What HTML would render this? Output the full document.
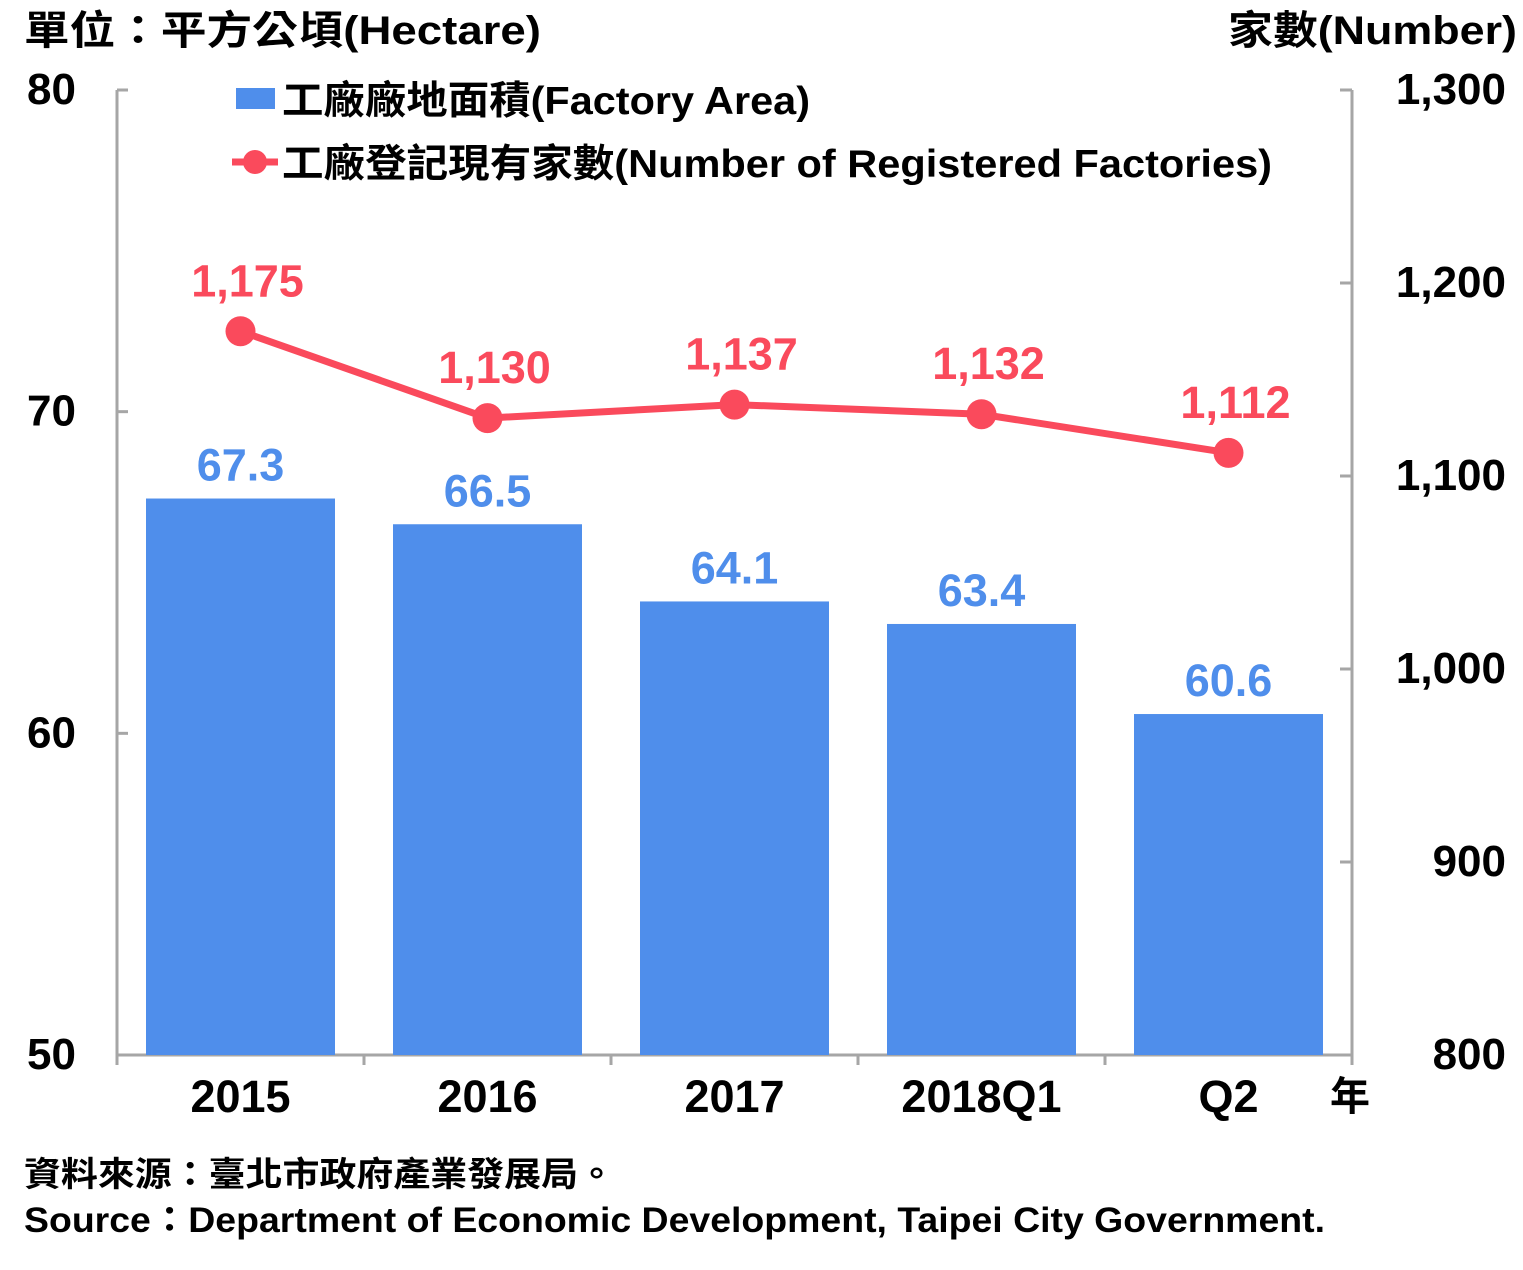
<!DOCTYPE html>
<html><head><meta charset="utf-8"><style>
html,body{margin:0;padding:0;background:#fff;}
svg text{font-family:"Liberation Sans","Noto Sans CJK TC",sans-serif;font-weight:bold;}
</style></head><body>
<svg id="chart" width="1523" height="1265" viewBox="0 0 1523 1265" xmlns="http://www.w3.org/2000/svg">
<text x="24" y="44" font-size="40" fill="#000" textLength="517" lengthAdjust="spacingAndGlyphs">單位：平方公頃(Hectare)</text>
<text x="1228" y="44" font-size="40" fill="#000" textLength="289" lengthAdjust="spacingAndGlyphs">家數(Number)</text>
<g id="axes"></g>
<g id="bars"></g>
<g id="line"></g>
<g>
<rect x="236" y="88" width="39" height="21" fill="#4f8eeb"/>
<text x="282" y="114" font-size="39" fill="#000" textLength="528" lengthAdjust="spacingAndGlyphs">工廠廠地面積(Factory Area)</text>
<line x1="232" y1="162" x2="278" y2="162" stroke="#fa4a5c" stroke-width="7"/>
<circle cx="255" cy="162" r="12" fill="#fa4a5c"/>
<text x="282" y="177" font-size="39" fill="#000" textLength="990" lengthAdjust="spacingAndGlyphs">工廠登記現有家數(Number of Registered Factories)</text>
</g>
<text x="1330" y="1110" font-size="40" fill="#000">年</text>
<text x="24" y="1186" font-size="34" fill="#000" font-weight="normal" textLength="591" lengthAdjust="spacingAndGlyphs">資料來源：臺北市政府產業發展局。</text>
<text x="24" y="1232" font-size="35" fill="#000" textLength="1301" lengthAdjust="spacingAndGlyphs">Source：Department of Economic Development, Taipei City Government.</text>
</svg>
<script>
const categories=["2015","2016","2017","2018Q1","Q2"];
const areaValues=[67.3,66.5,64.1,63.4,60.6];
const countValues=[1175,1130,1137,1132,1112];
const leftTicks=[50,60,70,80];
const rightTicks=[800,900,1000,1100,1200,1300];
const NS="http://www.w3.org/2000/svg";
const X0=117,X1=1352,Y0=1055,Y1=90;
const yL=v=>Y0-(v-50)/30*(Y0-Y1);
const yR=v=>Y0-(v-800)/500*(Y0-Y1);
const bw=(X1-X0)/categories.length;
const xc=i=>X0+bw*(i+0.5);
function mk(tag,attrs,parent,txt){const e=document.createElementNS(NS,tag);for(const k in attrs)e.setAttribute(k,attrs[k]);if(txt!==undefined)e.textContent=txt;parent.appendChild(e);return e;}
const axes=document.getElementById('axes'),bars=document.getElementById('bars'),line=document.getElementById('line');
const g='#a6a6a6';
let e=mk('line',{x1:X0,y1:Y1,x2:X0,y2:Y0,stroke:g,'stroke-width':3},axes);


e=mk('line',{x1:X1,y1:Y1,x2:X1,y2:Y0,stroke:g,'stroke-width':3},axes);


e=mk('line',{x1:X0,y1:Y0,x2:X1,y2:Y0,stroke:g,'stroke-width':3},axes);


leftTicks.forEach(v=>{const y=yL(v);mk('line',{x1:X0,y1:y,x2:X0+11,y2:y,stroke:g,'stroke-width':3},axes);
e=mk('text',{x:76,y:y+14,'font-size':44,'text-anchor':'end',fill:'#000'},axes,String(v));

});
rightTicks.forEach(v=>{const y=yR(v);mk('line',{x1:X1-12,y1:y,x2:X1,y2:y,stroke:g,'stroke-width':3},axes);
e=mk('text',{x:1506,y:y+14,'font-size':44,'text-anchor':'end',fill:'#000'},axes,v.toLocaleString('en-US'));

});
for(let i=0;i<=categories.length;i++){const x=X0+bw*i;mk('line',{x1:x,y1:Y0,x2:x,y2:Y0+10,stroke:g,'stroke-width':3},axes);}
categories.forEach((c,i)=>{e=mk('text',{x:xc(i),y:1112,'font-size':45,'text-anchor':'middle',fill:'#000'},axes,c);

});
areaValues.forEach((v,i)=>{const w=189,y=yL(v);
e=mk('rect',{x:xc(i)-w/2,y:y,width:w,height:Y0-y,fill:'#4f8eeb'},bars);


e=mk('text',{x:xc(i),y:y-18,'font-size':45,'text-anchor':'middle',fill:'#4f8eeb'},bars,v.toFixed(1));

});
const pts=countValues.map((v,i)=>xc(i)+','+yR(v)).join(' ');
e=mk('polyline',{points:pts,fill:'none',stroke:'#fa4a5c','stroke-width':7},line);


countValues.forEach((v,i)=>{
e=mk('circle',{cx:xc(i),cy:yR(v),r:15,fill:'#fa4a5c'},line);


e=mk('text',{x:xc(i)+7,y:yR(v)-35,'font-size':45,'text-anchor':'middle',fill:'#fa4a5c'},line,v.toLocaleString('en-US'));

});
</script>
</body></html>
